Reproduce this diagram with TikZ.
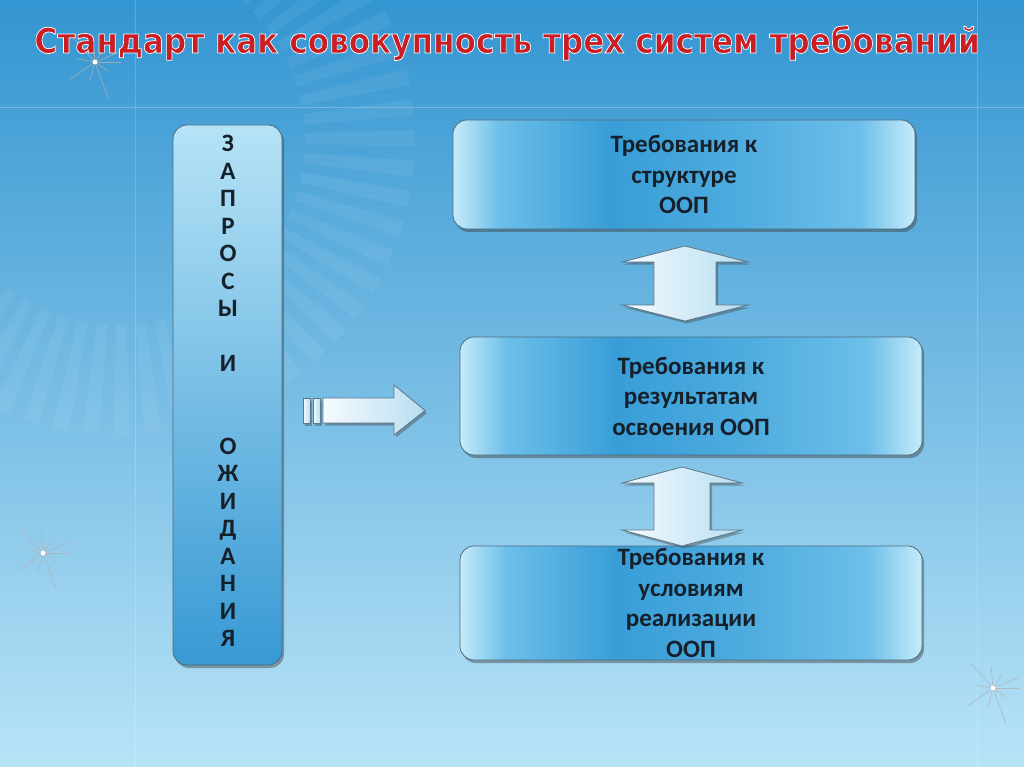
\documentclass[tikz,border=0pt]{standalone}
\usepackage{fontspec}
\setmainfont{Carlito}
\newfontfamily\titlefont{DejaVu Sans}
\usetikzlibrary{shadows}

\definecolor{bgA}{HTML}{3395D1}
\definecolor{bgB}{HTML}{B8E3F7}
\definecolor{bxEdge}{HTML}{C6EBFA}
\definecolor{bxQ}{HTML}{6CBFE9}
\definecolor{bxMid}{HTML}{389DD7}
\definecolor{bxMid2}{HTML}{4EACDF}
\definecolor{bord}{HTML}{4D6B7D}
\definecolor{txt}{HTML}{15202A}
\definecolor{ttl}{HTML}{C81E24}
\definecolor{barTop}{HTML}{B6E3F6}
\definecolor{barBot}{HTML}{3899D4}
\definecolor{arL}{HTML}{F5FBFF}
\definecolor{arR}{HTML}{B8DEF1}
\definecolor{arEdge}{HTML}{5F7A8A}

\pgfdeclarehorizontalshading{boxsh}{100bp}{color(0bp)=(bxEdge); color(25bp)=(bxEdge); color(30bp)=(bxQ); color(42bp)=(bxMid); color(56bp)=(bxMid2); color(69bp)=(bxQ); color(75bp)=(bxEdge); color(100bp)=(bxEdge)}

\newcommand\ttltext{\resizebox{945pt}{27.5pt}{\special{pdf:literal direct 2 Tr 0.22 w 1 1 1 RG}\titlefont\bfseries Стандарт как совокупность трех систем требований\special{pdf:literal direct 0 Tr}}}

\tikzset{
  reqbox/.style={draw=bord, line width=0.8pt, rounded corners=14pt, shade, shading=boxsh,
    minimum width=462pt, text=txt, font=\fontsize{25}{30.5}\selectfont\bfseries,
    align=center, inner sep=0pt,
    drop shadow={shadow xshift=2pt, shadow yshift=-3pt, opacity=.45, fill=black!75}},
  barbox/.style={draw=bord, line width=0.8pt, rounded corners=14pt, top color=barTop, bottom color=barBot,
    minimum width=109pt, minimum height=540pt, inner sep=0pt,
    drop shadow={shadow xshift=2pt, shadow yshift=-3pt, opacity=.45, fill=black!75}},
  barletters/.style={text=txt, font=\fontsize{25}{27.5}\selectfont\bfseries, align=center, inner sep=0pt},
  blockarrow/.style={left color=arL, right color=arR, draw=arEdge, line width=0.8pt, line join=miter,
    drop shadow={shadow xshift=2pt, shadow yshift=-2.5pt, opacity=.4, fill=black!75}},
  ttlnode/.style={anchor=base, inner sep=0pt},
  sparkle/.pic={
    \foreach \a/\l in {0/26,35/16,70/38,105/20,145/30,190/18,228/34,265/22,305/16,338/28}
      \draw[gray!60!white, line width=0.7pt, opacity=.8] (0,0) -- (\a:\l);
    \fill[white] (0,0) circle (2.4);
  }
}

\begin{document}
\begin{tikzpicture}[x=1pt,y=-1pt]
\useasboundingbox (0,0) rectangle (1024,767);
% background
\shade[shading angle=45, top color=bgA, bottom color=bgB] (0,0) rectangle (1024,767);
\begin{scope}
\clip (0,0) rectangle (1024,767);
\foreach \t in {-80,-74,...,125}
  \fill[white, opacity=.06] ({120+185*cos(\t)},{140+185*sin(\t)}) -- ({120+295*cos(\t)},{140+295*sin(\t)})
     -- ({120+295*cos(\t+3.2)},{140+295*sin(\t+3.2)}) -- ({120+185*cos(\t+3.2)},{140+185*sin(\t+3.2)}) -- cycle;
\end{scope}
\draw[white, opacity=.25, line width=0.8pt] (0,107) -- (1024,107);
\draw[white, opacity=.18, line width=0.8pt] (135,0) -- (135,767);
\draw[white, opacity=.18, line width=0.8pt] (977,0) -- (977,767);
\pic at (95,62) {sparkle};
\pic at (43,553) {sparkle};
\pic at (993,688) {sparkle};

% title
\node[ttlnode, text=ttl] (title) at (507,53) {\ttltext};

% left bar
\node[barbox] (bar) at (227.5,395) {};
\node[barletters] (zapr) at (228,391) {З\\А\\П\\Р\\О\\С\\Ы\\~\\И\\~\\~\\О\\Ж\\И\\Д\\А\\Н\\И\\Я};

% requirement boxes
\node[reqbox, minimum height=109pt] (b1) at (684,174.5) {Требования к\\структуре\\ООП};
\node[reqbox, minimum height=118pt] (b2) at (691,396) {Требования к\\результатам\\освоения ООП};
\node[reqbox, minimum height=114pt] (b3) at (691,603) {Требования к\\условиям\\реализации\\ООП};

% right arrow from bar to boxes
\filldraw[blockarrow] (303,398) rectangle (310,423);
\filldraw[blockarrow] (313,398) rectangle (320,423);
\filldraw[blockarrow] (323,398) -- (394,398) -- (394,385) -- (425,410.5) -- (394,435) -- (394,423) -- (323,423) -- cycle;

% double arrows between boxes
\filldraw[blockarrow] (685,246) -- (748,262) -- (716,262) -- (716,305) -- (748,305) -- (685,321)
   -- (622,305) -- (654,305) -- (654,262) -- (622,262) -- cycle;
\filldraw[blockarrow] (682,467) -- (742,483) -- (710,483) -- (710,530) -- (742,530) -- (682,546)
   -- (622,530) -- (654,530) -- (654,483) -- (622,483) -- cycle;
\end{tikzpicture}
\end{document}
